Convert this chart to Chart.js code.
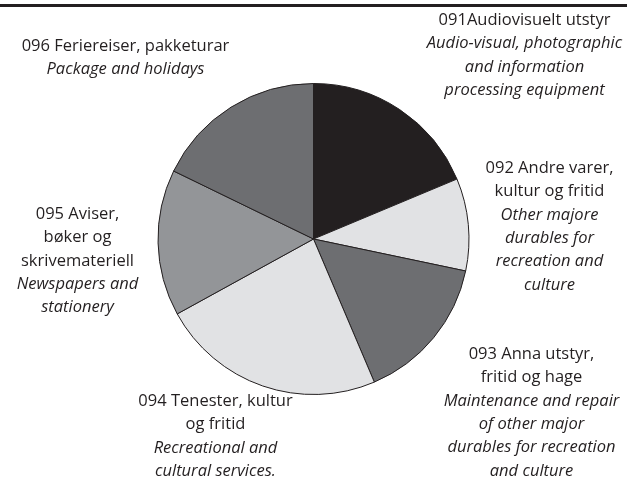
<!DOCTYPE html>
<html>
<head>
<meta charset="utf-8">
<script src="https://cdn.jsdelivr.net/npm/chart.js@4.4.1/dist/chart.umd.min.js"></script>
<style>
  html, body { margin: 0; padding: 0; background: #fff; }
  #wrap { width: 627px; height: 497px; position: relative; }
</style>
</head>
<body>
<div id="wrap"><canvas id="pieChart"></canvas></div>
<script>
// Slices, clockwise from 12 o'clock (share in percent)
const codes = ['091', '092', '093', '094', '095', '096'];
const shares = [18.7, 9.6, 15.3, 23.4, 15.2, 17.8];
const sliceColors = ['#231f20', '#e1e2e4', '#6d6e71', '#e1e2e4', '#939598', '#6d6e71'];

// Label text: Norwegian lines (regular) then English lines (italic)
const labelsNo = [
    ['091Audiovisuelt utstyr'],
    ['092 Andre varer,', 'kultur og fritid'],
    ['093 Anna utstyr,', 'fritid og hage'],
    ['094 Tenester, kultur', 'og fritid'],
    ['095 Aviser,', 'bøker og', 'skrivemateriell'],
    ['096 Feriereiser, pakketurar']
];
const labelsEn = [
    ['Audio-visual, photographic', 'and information', 'processing equipment'],
    ['Other majore', 'durables for', 'recreation and', 'culture'],
    ['Maintenance and repair', 'of other major', 'durables for recreation', 'and culture'],
    ['Recreational and', 'cultural services.'],
    ['Newspapers and', 'stationery'],
    ['Package and holidays']
];

// where each label block sits, as offset from pie centre (x centre, y of first line)
const labelAnchors = [
    [211, -219], [236, -71], [218, 115], [-98, 162], [-236, -25], [-188, -193]
];

const FONT = '"Open Sans", sans-serif';
const LINE_H = 23.4;

const labelPlugin = {
    id: 'labels',
    afterDraw(chart) {
        const ctx = chart.ctx;
        const arc = chart.getDatasetMeta(0).data[0];
        const cx = arc.x, cy = arc.y;
        ctx.save();
        // rule across the top
        ctx.fillStyle = '#231f20';
        ctx.fillRect(0, 4, chart.width, 3);

        ctx.textAlign = 'center';
        ctx.textBaseline = 'middle';
        labelAnchors.forEach((a, i) => {
            let y = cy + a[1];
            labelsNo[i].forEach(line => {
                ctx.font = '16.5px ' + FONT;
                ctx.fillText(line, cx + a[0], y);
                y += LINE_H;
            });
            labelsEn[i].forEach(line => {
                ctx.font = 'italic 16.5px ' + FONT;
                ctx.fillText(line, cx + a[0], y);
                y += LINE_H;
            });
        });
        ctx.restore();
    }
};

new Chart(document.getElementById('pieChart'), {
    type: 'pie',
    data: {
        labels: codes,
        datasets: [{
            data: shares,
            backgroundColor: sliceColors,
            borderColor: '#231f20',
            borderWidth: 1
        }]
    },
    options: {
        responsive: true,
        maintainAspectRatio: false,
        animation: false,
        layout: { padding: { top: 83, bottom: 102, left: 0, right: 0 } },
        plugins: {
            legend: { display: false },
            tooltip: { enabled: false }
        }
    },
    plugins: [labelPlugin]
});
</script>
</body>
</html>
